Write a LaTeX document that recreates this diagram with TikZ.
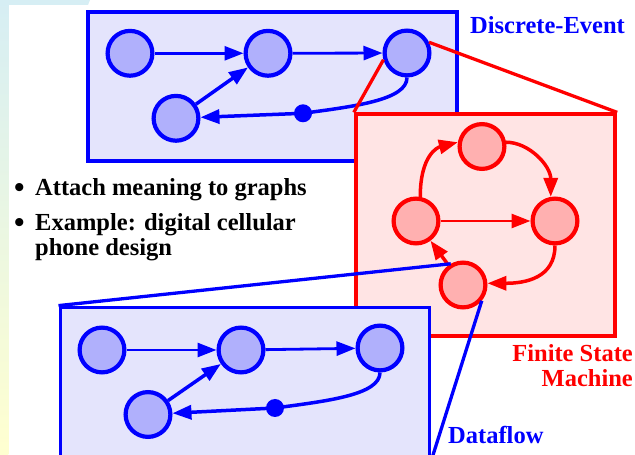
\documentclass[tikz,border=0pt]{standalone}
\usepackage{fontspec}
\setmainfont{Liberation Serif}
\usetikzlibrary{arrows.meta}

\definecolor{dblue}{RGB}{0,0,255}
\definecolor{boxblue}{RGB}{228,228,252}
\definecolor{nodeblue}{RGB}{176,176,252}
\definecolor{dred}{RGB}{255,0,0}
\definecolor{boxred}{RGB}{255,228,228}
\definecolor{nodered}{RGB}{255,176,176}
\definecolor{stripcyan}{RGB}{214,238,244}
\definecolor{stripgreen}{RGB}{232,246,226}
\definecolor{stripyellow}{RGB}{255,255,208}

\begin{document}
\begin{tikzpicture}[x=1pt,y=1pt,
  gnode/.style={circle, line width=4.2pt, minimum size=44.8pt, inner sep=0pt},
  bnode/.style={gnode, draw=dblue, fill=nodeblue},
  rnode/.style={gnode, draw=dred, fill=nodered},
  junction/.style={circle, fill=dblue, minimum size=18pt, inner sep=0pt},
  panel/.style={rectangle, line width=3.8pt, inner sep=0pt},
  bpanel/.style={panel, draw=dblue, fill=boxblue, minimum width=369pt},
  rpanel/.style={panel, draw=dred, fill=boxred, minimum width=259.6pt, minimum height=221.5pt},
  arrowed/.style={-{Triangle[length=19pt,width=14pt]}},
  thinarc/.style={arrowed, line width=2.8pt},
  thickarc/.style={arrowed, line width=3.5pt},
  zoomline/.style={line width=3.3pt},
  heading/.style={font=\fontsize{24.5}{25}\selectfont\bfseries, inner sep=0pt},
]
\useasboundingbox (0,0) rectangle (635,455);
\clip (0,0) rectangle (635,455);

% page background with the slide's edge strips
\fill[white] (0,0) rectangle (635,455);
\shade[top color=stripcyan, middle color=stripgreen, bottom color=stripyellow]
  (0,0) rectangle (8.3,455);
\fill[stripcyan] (0,455) -- (90,455) -- (88,450) -- (0,450) -- cycle;

% ---- discrete-event graph ----
\node[bpanel, minimum height=149.3pt] (de) at (272.5,368.65) {};
\node[bnode] (a) at (130,401.7) {};
\node[bnode] (b) at (268,401.7) {};
\node[bnode] (c) at (407,402) {};
\node[bnode] (d) at (176,336.7) {};
\node[junction] (j) at (303,341.7) {};
\draw[dblue, thinarc] (a) -- (b);
\draw[dblue, thinarc] (b) -- (c);
\draw[dblue, thickarc] (d) -- (b);
\draw[dblue, thickarc] (c.south) .. controls +(0,-22.5) and +(52,7) .. (j.center) -- (d);

% ---- finite state machine ----
\node[rpanel] (fsm) at (485.5,229.95) {};
\draw[dred, zoomline] (c.196) -- (fsm.north west);
\draw[dred, zoomline] (c.26) -- (fsm.north east);
\node[rnode] (ft) at (482,308.5) {};
\node[rnode] (fl) at (416,234) {};
\node[rnode] (fr) at (555,234) {};
\node[rnode] (fb) at (463,170) {};
\draw[dred, thickarc] (fl.80) .. controls +(0,42) and +(-20,-5) .. (ft.170);
\draw[dred, thickarc] (ft.10) .. controls +(23,0) and +(0,31) .. (fr.100);
\draw[dred, thinarc] (fl) -- (fr);
\draw[dred, thickarc] (fr.south) .. controls +(0,-32.5) and +(38,0) .. (fb.4);
\draw[dred, thickarc] (fb) -- (fl);

% ---- dataflow graph ----
\node[bpanel, minimum height=151pt] (df) at (244.9,72) {};
\node[bnode] (qa) at (102,105) {};
\node[bnode] (qb) at (241,105) {};
\node[bnode] (qc) at (380,107) {};
\node[bnode] (qd) at (148,40.5) {};
\node[junction] (qj) at (275,47) {};
\draw[dblue, thinarc] (qa) -- (qb);
\draw[dblue, thinarc] (qb) -- (qc);
\draw[dblue, thickarc] (qd) -- (qb);
\draw[dblue, thickarc] (qc.south) .. controls +(0,-22.5) and +(52,7) .. (qj.center) -- (qd);

\draw[dblue, zoomline] (df.north west) -- (fb.120);
\draw[dblue, zoomline] (fb.-40) -- (df.south east);

% ---- captions ----
\node[heading, text=dblue, anchor=base west] (deT) at (470,421) {Discrete-Event};
\node[heading, anchor=base west] (bul1) at (14,257.5) {\fontsize{30}{25}\selectfont •};
\node[heading, anchor=base west] (txt1) at (35,259.5) {Attach meaning to graphs};
\node[heading, anchor=base west] (bul2) at (14,222.5) {\fontsize{30}{25}\selectfont •};
\node[heading, anchor=base west] (txt2) at (35,224.5) {Example: digital cellular};
\node[heading, anchor=base west] (txt3) at (35,199.5) {phone design};
\node[heading, text=dred, anchor=base east] (fsmT1) at (633,93) {Finite State};
\node[heading, text=dred, anchor=base east] (fsmT2) at (633,68) {Machine};
\node[heading, text=dblue, anchor=base west] (dfT) at (448,11) {Dataflow};
\end{tikzpicture}
\end{document}
